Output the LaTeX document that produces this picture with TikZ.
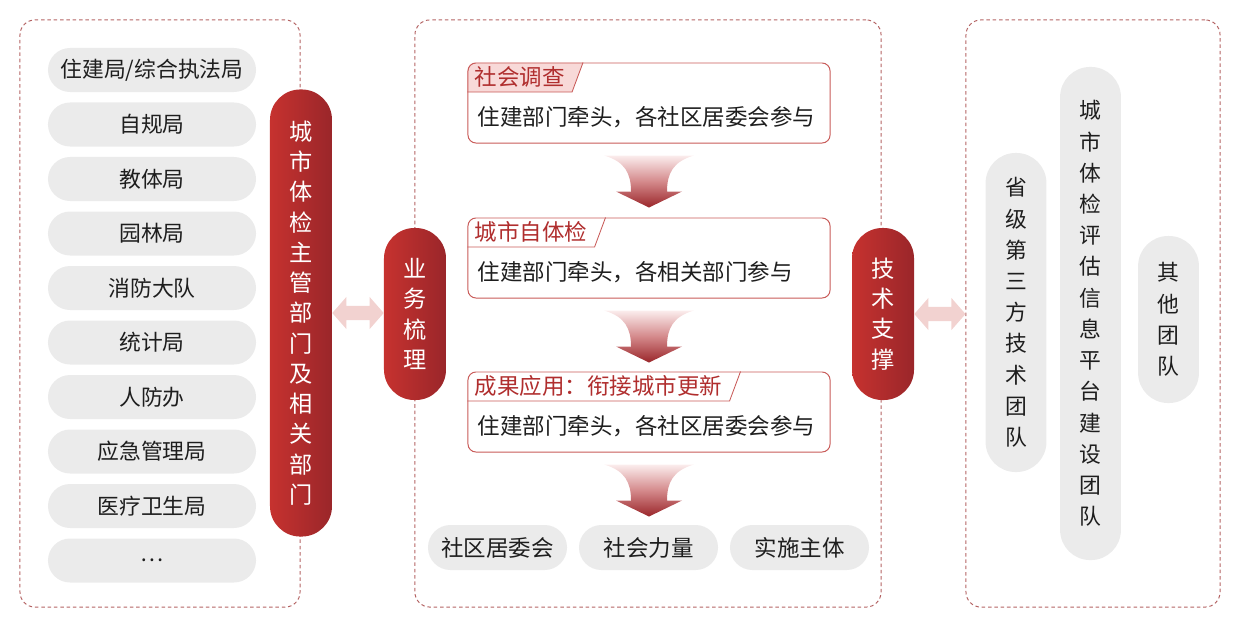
\documentclass[tikz,border=0pt]{standalone}
\usepackage{fontspec}
\setmainfont{Noto Sans CJK SC}
\usepackage{tikz}
\usetikzlibrary{positioning,calc,backgrounds}
\definecolor{chkRed}{HTML}{C6322F}
\definecolor{chkWine}{HTML}{9A262A}
\definecolor{chkDash}{HTML}{B46464}
\definecolor{chkLine}{HTML}{C85A58}
\definecolor{chkGrey}{HTML}{EBEBEB}
\definecolor{chkInk}{HTML}{1E1E1E}
\definecolor{chkTab}{HTML}{F8D9D8}
\definecolor{chkTabInk}{HTML}{B02E2E}
\definecolor{chkPink}{HTML}{F2D2D0}
\definecolor{chkFade}{HTML}{FBEDED}
\definecolor{chkMid}{HTML}{D4898B}

% fat pink two-way link between two nodes
\newcommand\twoway[2]{%
  \fill[chkPink] let \p1=(#1.east), \p2=(#2.west) in
    (\x1,\y1) -- (\x1+10pt,\y1+11.4pt) -- (\x1+10pt,\y1+5pt) -- (\x2-10pt,\y1+5pt)
    -- (\x2-10pt,\y1+11.4pt) -- (\x2,\y1) -- (\x2-10pt,\y1-11.4pt) -- (\x2-10pt,\y1-5pt)
    -- (\x1+10pt,\y1-5pt) -- (\x1+10pt,\y1-11.4pt) -- cycle;}
% shaded funnel arrow under a step box
\newcommand\funnel[1]{%
  \begin{scope}[shift={($(#1.south)+(0,12)$)}]
    \shade[top color=chkFade,bottom color=chkWine,middle color=chkMid]
      (-45,0) -- (45,0) .. controls (24,6) and (18,18) .. (18,36) -- (33,36) -- (0,52)
      -- (-33,36) -- (-18,36) .. controls (-18,18) and (-24,6) .. (-45,0) -- cycle;
  \end{scope}}

\begin{document}
\begin{tikzpicture}[x=0.025cm,y=-0.025cm,
    zone/.style={draw=chkDash,dash pattern=on 2.5pt off 2pt,line width=0.7pt,
                 rounded corners=0.375cm,inner sep=0pt,minimum height=14.675cm},
    greypill/.style={fill=chkGrey,rounded corners=0.55cm,minimum width=5.2cm,
                 minimum height=1.1cm,inner sep=0pt,text=chkInk,
                 font=\fontsize{15.5}{18}\selectfont},
    redpill/.style={left color=chkRed,right color=chkWine,rounded corners=0.76cm,
                 minimum width=1.55cm,inner sep=0pt,text=white,align=center,
                 font=\fontsize{16.5}{21.5}\selectfont},
    vpill/.style={fill=chkGrey,rounded corners=0.75cm,minimum width=1.52cm,
                 inner sep=0pt,text=chkInk,align=center,
                 font=\fontsize{15.5}{22.2}\selectfont},
    stepbox/.style={draw=chkLine,line width=0.7pt,rounded corners=0.2cm,
                 minimum width=9.05cm,minimum height=2cm,inner sep=0pt},
    tabtext/.style={anchor=north west,inner xsep=0.175cm,inner ysep=0pt,
                 minimum height=0.725cm,text=chkTabInk,font=\fontsize{16}{18}\selectfont},
    bodytext/.style={anchor=west,inner sep=0pt,text=chkInk,
                 font=\fontsize{16}{18}\selectfont},
    botpill/.style={fill=chkGrey,rounded corners=0.56cm,minimum width=3.475cm,
                 minimum height=1.125cm,inner sep=0pt,text=chkInk,
                 font=\fontsize{16}{18}\selectfont}]
  \useasboundingbox (0,0) rectangle (1233,626);

  % three dashed zones
  \node[zone,minimum width=7cm] (deptzone) at (160,313.5) {};
  \node[zone,minimum width=11.65cm] (workzone) at (648,313.5) {};
  \node[zone,minimum width=6.35cm] (teamzone) at (1093,313.5) {};

  % departments
  \foreach \t [count=\i] in {住建局/综合执法局,自规局,教体局,园林局,消防大队,
                             统计局,人防办,应急管理局,医疗卫生局,…}
    \node[greypill] (dept\i) at (152,15.5+54.5*\i) {\t};

  \node[redpill,minimum height=11.175cm] (lead) at (301,313)
    {城\\市\\体\\检\\主\\管\\部\\门\\及\\相\\关\\部\\门};
  \node[redpill,minimum height=4.3cm] (biz) at (415,314) {业\\务\\梳\\理};
  \node[redpill,minimum height=4.3cm] (tech) at (883,314) {技\\术\\支\\撑};

  \twoway{lead}{biz}
  \twoway{tech}{teamzone}

  % steps
  \foreach \y/\head/\body [count=\i] in {103/社会调查/住建部门牵头，各社区居委会参与,
      258/城市自体检/住建部门牵头，各相关部门参与,
      412/成果应用：衔接城市更新/住建部门牵头，各社区居委会参与} {
    \node[stepbox] (step\i) at (649,\y) {};
    \node[tabtext] (head\i) at (step\i.north west) {\head};
    \begin{scope}[on background layer]
      \clip[rounded corners=0.2cm] (step\i.south west) rectangle (step\i.north east);
      \fill[chkTab] (head\i.south west) -- (head\i.north west)
        -- ($(head\i.north east)+(11,0)$) -- (head\i.south east) -- cycle;
    \end{scope}
    \draw[chkLine,line width=0.6pt] ($(head\i.north east)+(11,0)$)
      -- (head\i.south east) -- (head\i.south west);
    \node[bodytext] (body\i) at ($(step\i.west)+(10,14)$) {\body};
  }
  \funnel{step1}
  \funnel{step2}
  \funnel{step3}

  \node[botpill] (actor1) at (497.5,547.5) {社区居委会};
  \node[botpill] (actor2) at (648.5,547.5) {社会力量};
  \node[botpill] (actor3) at (799.5,547.5) {实施主体};

  % technical teams
  \node[vpill,minimum height=7.975cm] (team1) at (1016,312.5)
    {省\\级\\第\\三\\方\\技\\术\\团\\队};
  \node[vpill,minimum height=12.325cm] (team2) at (1090.5,313.5)
    {城\\市\\体\\检\\评\\估\\信\\息\\平\\台\\建\\设\\团\\队};
  \node[vpill,minimum height=4.175cm] (team3) at (1168.5,319.5) {其\\他\\团\\队};
\end{tikzpicture}
\end{document}
